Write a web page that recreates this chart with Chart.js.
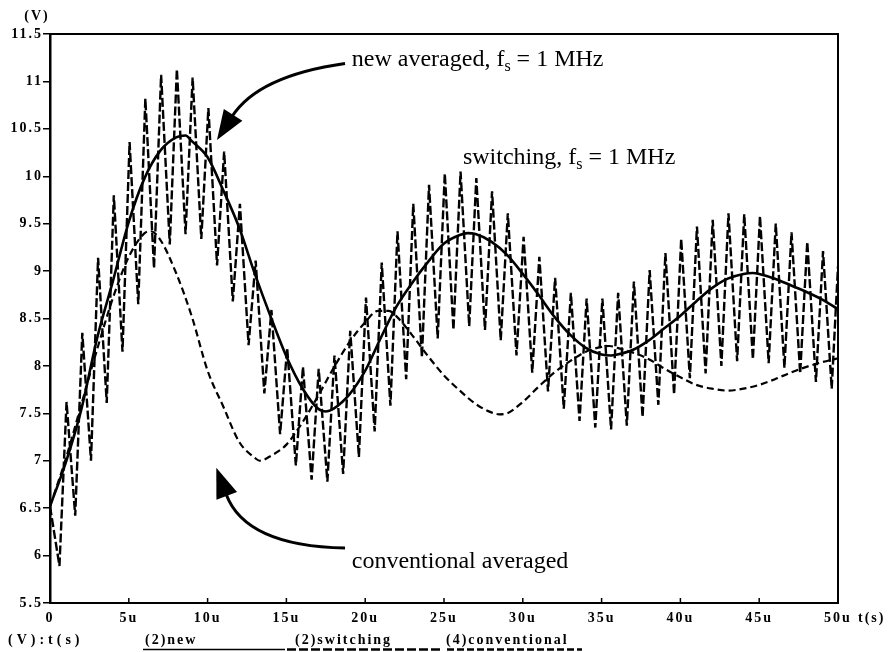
<!DOCTYPE html>
<html><head><meta charset="utf-8">
<script src="https://cdn.jsdelivr.net/npm/chart.js@4.4.1/dist/chart.umd.min.js"></script>
<style>html,body{margin:0;padding:0;background:#fff}#wrap{width:892px;height:652px;position:relative}</style>
</head><body><div id="wrap"><canvas id="c" width="892" height="652"></canvas></div>
<script>
// ---- data (time in microseconds, voltage in V) ----
const xTickValues = [0,5,10,15,20,25,30,35,40,45,50];
const xTickLabels = ['0','5u','10u','15u','20u','25u','30u','35u','40u','45u','50u'];
const yTickValues = [5.5,6,6.5,7,7.5,8,8.5,9,9.5,10,10.5,11,11.5];
const yTickLabels = ['5.5','6','6.5','7','7.5','8','8.5','9','9.5','10','10.5','11','11.5'];

const newT = [0,1,2,3,4,5,6,7,8,8.6,9,10,11,12,13,14,15,16,17,17.5,18,19,20,21,22,23,24,25,26,26.5,27,28,29,30,31,32,33,34,35,35.6,36,37,38,39,40,41,42,43,44,44.6,45,46,47,48,49,50];
const newV = [6.52,6.98,7.55,8.3,8.9,9.52,9.98,10.27,10.41,10.43,10.37,10.2,9.85,9.46,8.97,8.52,8.1,7.77,7.55,7.52,7.55,7.7,7.95,8.3,8.63,8.88,9.1,9.29,9.38,9.4,9.39,9.31,9.17,8.97,8.75,8.52,8.33,8.19,8.12,8.11,8.12,8.17,8.27,8.4,8.53,8.68,8.82,8.92,8.97,8.98,8.97,8.92,8.85,8.78,8.7,8.6];

const convT = [0,1,2,3,4,5,6,6.4,7,8,9,10,11,12,13,13.3,14,15,16,17,18,19,20,20.8,21.5,22,23,24,25,26,27,28,28.5,29,30,31,32,33,34,35,35.5,36,37,38,39,40,41,42,43,44,45,46,47,48,49,50];
const convV = [6.52,7.02,7.6,8.18,8.72,9.15,9.4,9.42,9.33,8.98,8.52,7.95,7.57,7.2,7.03,7.0,7.05,7.17,7.4,7.68,7.98,8.25,8.46,8.58,8.58,8.52,8.32,8.1,7.9,7.74,7.6,7.51,7.49,7.5,7.62,7.78,7.93,8.05,8.15,8.2,8.21,8.19,8.14,8.07,7.97,7.88,7.8,7.76,7.74,7.76,7.8,7.86,7.93,7.99,8.04,8.08];

const swT = [0,0.6,1.05,1.6,2.05,2.6,3.05,3.6,4.05,4.6,5.05,5.6,6.05,6.6,7.05,7.6,8.05,8.6,9.05,9.6,
  10.05,10.6,11.05,11.6,12.05,12.6,13.05,13.6,14.05,14.6,15.05,15.6,16.05,16.6,17.05,17.6,18.05,18.6,19.05,19.6,
  20.05,20.6,21.05,21.6,22.05,22.6,23.05,23.6,24.05,24.6,25.05,25.6,26.05,26.6,27.05,27.6,28.05,28.6,29.05,29.6,
  30.05,30.6,31.05,31.6,32.05,32.6,33.05,33.6,34.05,34.6,35.05,35.6,36.05,36.6,37.05,37.6,38.05,38.6,39.05,39.6,
  40.05,40.6,41.05,41.6,42.05,42.6,43.05,43.6,44.05,44.6,45.05,45.6,46.05,46.6,47.05,47.6,48.05,48.6,49.05,49.6,50];
const swV = [6.52,5.89, 7.62,6.42, 8.35,7.0, 9.14,7.61, 9.8,8.15, 10.36,8.65, 10.82,9.03, 11.07,9.28, 11.13,9.39, 11.04,9.34,
  10.72,9.06, 10.26,8.68, 9.71,8.22, 9.11,7.71, 8.59,7.28, 8.19,6.95, 7.99,6.8, 7.97,6.78, 8.11,6.86, 8.37,7.04,
  8.72,7.31, 9.09,7.58, 9.42,7.86, 9.71,8.09, 9.91,8.29, 10.03,8.38, 10.05,8.42, 9.98,8.38, 9.84,8.27, 9.61,8.11,
  9.36,7.93, 9.15,7.73, 8.93,7.55, 8.77,7.42, 8.71,7.35, 8.71,7.33, 8.77,7.37, 8.89,7.46, 9.01,7.59, 9.19,7.70,
  9.34,7.87, 9.47,7.92, 9.54,8.0, 9.61,8.05, 9.60,8.07, 9.58,8.03, 9.50,7.98, 9.41,7.92, 9.31,7.83, 9.21,7.76, 9.05];

const seriesNames = ['(2)new', '(2)switching', '(4)conventional'];

// ---- annotation anchors (data units) ----
const labelNew  = {t:19.15, v:11.16, text:'new averaged, f', sub:'s', tail:' = 1 MHz'};
const labelSw   = {t:26.2,  v:10.13, text:'switching, f', sub:'s', tail:' = 1 MHz'};
const labelConv = {t:19.15, v:5.87,  text:'conventional averaged', sub:'', tail:''};
const arrowNew  = {from:[18.72,11.19], ctrl:[13.2,11.06], to:[11.55,10.63]};
const arrowConv = {from:[18.72,6.08], ctrl:[12.4,6.1], to:[11.17,6.65]};

const pts = (T, V) => T.map((t, i) => ({x: t, y: V[i]}));
const TICKFONT = 'bold 14px "Liberation Serif"';
const SPACING = '2px';

const decor = {
  id: 'decor',
  beforeDraw(chart) { chart.ctx.letterSpacing = SPACING; },
  afterDatasetsDraw(chart) {
    const ctx = chart.ctx, a = chart.chartArea, xs = chart.scales.x, ys = chart.scales.y;
    const P = (t, v) => [xs.getPixelForValue(t), ys.getPixelForValue(v)];
    ctx.save();
    ctx.setLineDash([]);
    ctx.strokeStyle = '#000';
    ctx.lineWidth = 2;
    ctx.beginPath();
    ctx.moveTo(a.left, a.top); ctx.lineTo(a.right + 1, a.top);
    ctx.moveTo(a.right, a.top); ctx.lineTo(a.right, a.bottom);
    ctx.stroke();
    ctx.lineWidth = 1.5;
    ctx.beginPath();
    xTickValues.forEach(v => { const x = xs.getPixelForValue(v); ctx.moveTo(x, a.bottom); ctx.lineTo(x, a.bottom - 5); });
    ctx.stroke();
    ctx.letterSpacing = '0px';
    ctx.fillStyle = '#000';
    ctx.textBaseline = 'alphabetic';
    ctx.textAlign = 'left';
    [labelNew, labelSw, labelConv].forEach(L => {
      let [x, y] = P(L.t, L.v);
      ctx.font = '24px "Liberation Serif"';
      ctx.fillText(L.text, x, y); x += ctx.measureText(L.text).width;
      if (L.sub) {
        ctx.font = '16px "Liberation Serif"';
        ctx.fillText(L.sub, x, y + 5); x += ctx.measureText(L.sub).width;
        ctx.font = '24px "Liberation Serif"';
        ctx.fillText(L.tail, x, y);
      }
    });
    [arrowNew, arrowConv].forEach(A => {
      const f = P(...A.from), c = P(...A.ctrl), e = P(...A.to);
      ctx.lineWidth = 3;
      ctx.beginPath(); ctx.moveTo(...f); ctx.quadraticCurveTo(...c, ...e); ctx.stroke();
      let dx = e[0] - c[0], dy = e[1] - c[1]; const L = Math.hypot(dx, dy); dx /= L; dy /= L;
      const len = 28, hw = 11;
      const tip = [e[0] + dx * len, e[1] + dy * len];
      const b = [e[0] - dx * 2, e[1] - dy * 2];
      ctx.beginPath();
      ctx.moveTo(...tip);
      ctx.lineTo(b[0] - dy * hw, b[1] + dx * hw);
      ctx.lineTo(b[0] + dy * hw, b[1] - dx * hw);
      ctx.closePath(); ctx.fill();
    });
    ctx.restore();
  },
  afterDraw(chart) {
    const ctx = chart.ctx, a = chart.chartArea;
    ctx.save();
    ctx.font = TICKFONT; ctx.fillStyle = '#000'; ctx.letterSpacing = SPACING;
    ctx.textBaseline = 'middle';
    ctx.textAlign = 'center';
    ctx.fillText('(V)', 37, 16);
    ctx.textAlign = 'left';
    ctx.fillText('t(s)', a.right + 20, 618);
    ctx.letterSpacing = '4px';
    ctx.fillText('(V):t(s)', 8, 640);
    ctx.letterSpacing = SPACING;
    const lx = [145, 295, 446];
    seriesNames.forEach((n, i) => ctx.fillText(n, lx[i], 640));
    ctx.strokeStyle = '#000';
    ctx.lineWidth = 1.6; ctx.setLineDash([]);
    ctx.beginPath(); ctx.moveTo(143, 649.5); ctx.lineTo(285, 649.5); ctx.stroke();
    ctx.lineWidth = 2.4; ctx.setLineDash([9, 3]);
    ctx.beginPath(); ctx.moveTo(287, 649.5); ctx.lineTo(440, 649.5); ctx.stroke();
    ctx.setLineDash([7, 3]);
    ctx.beginPath(); ctx.moveTo(447, 649.5); ctx.lineTo(582, 649.5); ctx.stroke();
    ctx.restore();
  }
};

new Chart(document.getElementById('c'), {
  type: 'line',
  data: {
    datasets: [
      {label: seriesNames[1], data: pts(swT, swV), borderColor: '#000', borderWidth: 2.4, borderDash: [9, 3], pointRadius: 0, tension: 0},
      {label: seriesNames[2], data: pts(convT, convV), borderColor: '#000', borderWidth: 2.2, borderDash: [7, 4], pointRadius: 0, cubicInterpolationMode: 'monotone'},
      {label: seriesNames[0], data: pts(newT, newV), borderColor: '#000', borderWidth: 2.6, pointRadius: 0, cubicInterpolationMode: 'monotone'}
    ]
  },
  options: {
    responsive: false, animation: false, events: [],
    layout: {padding: {top: 34, right: 54, left: 0, bottom: 0}},
    plugins: {legend: {display: false}, tooltip: {enabled: false}},
    scales: {
      x: {
        type: 'linear', min: 0, max: 50,
        afterFit(s) { s.height = 49; },
        afterBuildTicks(s) { s.ticks = xTickValues.map(v => ({value: v})); },
        ticks: {color: '#000', font: {family: 'Liberation Serif', size: 14, weight: 'bold'}, padding: 7, maxRotation: 0,
          callback: (v) => xTickLabels[xTickValues.indexOf(v)] ?? ''},
        grid: {display: true, drawOnChartArea: false, drawTicks: false},
        border: {display: true, color: '#000', width: 2}
      },
      y: {
        type: 'linear', min: 5.5, max: 11.5,
        afterFit(s) { s.width = 50; },
        afterBuildTicks(s) { s.ticks = yTickValues.map(v => ({value: v})); },
        ticks: {color: '#000', font: {family: 'Liberation Serif', size: 14, weight: 'bold'}, padding: 0,
          callback: (v) => yTickLabels[yTickValues.indexOf(v)] ?? ''},
        grid: {display: true, drawOnChartArea: false, drawTicks: true, tickLength: 7, color: '#000', lineWidth: 1.5},
        border: {display: true, color: '#000', width: 2.5}
      }
    }
  },
  plugins: [decor]
});
</script></body></html>
